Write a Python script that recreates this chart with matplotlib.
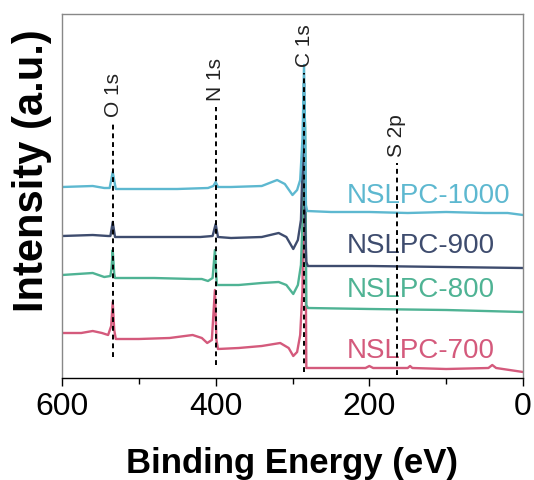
import matplotlib
matplotlib.use("Agg")
import matplotlib.pyplot as plt

plt.rcParams['font.family'] = ['Liberation Sans', 'DejaVu Sans']

# ---- data (binding energy in eV, intensity in arbitrary units) ----
series_names = ["NSLPC-700", "NSLPC-800", "NSLPC-900", "NSLPC-1000"]
series_colors = ["#d45a7c", "#4fb394", "#3e4c6e", "#5db8d0"]

energy_700 = [600, 575, 560, 548, 540, 536, 534, 532, 530, 500, 460, 430, 418, 411, 405, 401, 399, 397,
              370, 340, 316, 305, 299, 294, 290, 287, 285, 283.5, 282, 250, 205, 200, 195, 150, 147, 144,
              100, 45, 40, 35, 0]
inten_700 = [45, 45, 47, 45, 43, 52, 76, 48, 39, 39, 40, 43, 40, 35, 38, 88, 38, 29,
             30, 32, 35, 30, 22, 26, 43, 88, 260, 200, 10, 10, 10, 12, 10, 10, 12, 10,
             9, 10, 13, 10, 6]

energy_800 = [600, 560, 545, 537, 535.5, 534, 532, 531, 480, 430, 418, 410, 404, 401, 398.5,
              370, 340, 318, 308, 299, 293, 289, 286, 285, 283.5, 282, 280, 200, 100, 0]
inten_800 = [103, 105, 101, 102, 110, 128, 104, 100, 100, 99, 99, 97, 100, 128, 93,
             93, 95, 96, 93, 84, 93, 113, 178, 280, 250, 73, 70, 69, 68, 66]

energy_900 = [600, 560, 540, 537, 534, 531, 480, 420, 404, 400, 397, 380, 340, 318, 308, 299,
              293, 289, 286, 285, 283.5, 282, 280, 200, 100, 0]
inten_900 = [142, 143, 142, 142, 156, 141, 141, 141, 142, 154, 141, 140, 141, 145, 141, 129,
             138, 158, 238, 295, 150, 116, 112, 112, 111, 110]

energy_1000 = [600, 560, 545, 538, 534, 530, 500, 450, 410, 403, 400, 397, 380, 340, 320, 310,
               300, 294, 290, 287, 285, 283.5, 282.5, 281, 250, 200, 150, 100, 50, 20, 0]
inten_1000 = [191, 192, 190, 190, 206, 189, 189, 189, 190, 192, 196, 191, 191, 192, 198, 194,
              183, 188, 198, 240, 313, 238, 173, 167, 166, 166, 165, 166, 165, 165, 163]

peak_labels = ["O 1s", "N 1s", "C 1s", "S 2p"]
peak_energy = [533, 400, 285, 164]
peak_line_top = [255, 271, 305, 215]
peak_line_bottom = [21, 13, 6, 3]

label_x = [229, 229, 229, 229]
label_y = [27, 88, 132, 182]

x_ticks_major = [600, 400, 200, 0]
x_ticks_minor = [500, 300, 100]

# ---- plot ----
fig = plt.figure(figsize=(5.34, 4.80), dpi=100)
ax = fig.add_axes([62/534, 102/480, 461/534, 364/480])

energies = [energy_700, energy_800, energy_900, energy_1000]
intens = [inten_700, inten_800, inten_900, inten_1000]
for e, i, c in zip(energies, intens, series_colors):
    ax.plot(e, i, color=c, lw=1.7, solid_joinstyle='round')

for name, c, lx, ly in zip(series_names, series_colors, label_x, label_y):
    ax.text(lx, ly, name, color=c, fontsize=20, ha='left', va='center')

for lab, pe, top, bot in zip(peak_labels, peak_energy, peak_line_top, peak_line_bottom):
    ax.plot([pe, pe], [bot, top], color='black', lw=1.4, ls=(0, (2.5, 2)), zorder=5)
    ax.text(pe, top + 6, lab, rotation=90, ha='center', va='bottom', fontsize=15, color='#222222')

ax.set_xlim(600, 0)
ax.set_ylim(0, 364)
ax.set_xticks(x_ticks_major)
ax.set_xticks(x_ticks_minor, minor=True)
ax.set_xticklabels([str(t) for t in x_ticks_major], fontsize=23)
ax.tick_params(axis='x', which='major', direction='out', length=6, width=1.0, pad=4)
ax.tick_params(axis='x', which='minor', direction='out', length=4, width=1.0)
ax.set_yticks([])

for s in ['left', 'top', 'right']:
    ax.spines[s].set_color('#888888')
    ax.spines[s].set_linewidth(1.0)
ax.spines['bottom'].set_color('black')
ax.spines['bottom'].set_linewidth(1.0)

ax.set_xlabel("Binding Energy (eV)", fontsize=25, fontweight='bold', labelpad=18)
ax.set_ylabel("Intensity (a.u.)", fontsize=30, fontweight='bold')
ax.yaxis.set_label_coords(-0.022, 0.571)

fig.savefig("out.png", dpi=100)
